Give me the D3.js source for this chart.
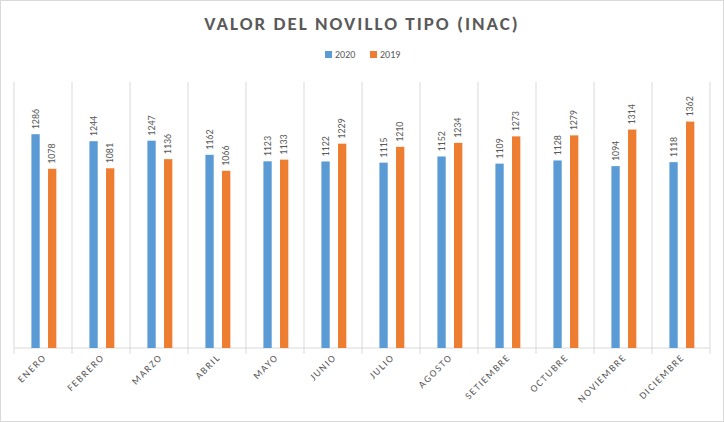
<!DOCTYPE html>
<html><head><meta charset="utf-8">
<script src="https://cdn.jsdelivr.net/npm/d3@7"></script>
<style>body{margin:0;background:#fff}svg{font-family:Calibri,"Liberation Sans",Arial,sans-serif}</style>
</head><body><svg id="c" width="724" height="422"></svg>
<script>
const months = ['ENERO','FEBRERO','MARZO','ABRIL','MAYO','JUNIO','JULIO','AGOSTO','SETIEMBRE','OCTUBRE','NOVIEMBRE','DICIEMBRE'];
const v2020 = [1286,1244,1247,1162,1123,1122,1115,1152,1109,1128,1094,1118];
const v2019 = [1078,1081,1136,1066,1133,1229,1210,1234,1273,1279,1314,1362];
const seriesNames = ['2020','2019'];
const colors = ['#5b9bd5','#ed7d31'];

const svg = d3.select('#c');
svg.append('rect').attr('x',0.5).attr('y',0.5).attr('width',723).attr('height',421).attr('fill','#fff').attr('stroke','#d9d9d9');

const margin = {left:14, right:14, top:82, bottom:74};
const width = 724 - margin.left - margin.right, height = 422 - margin.top - margin.bottom;
const g = svg.append('g').attr('transform',`translate(${margin.left},${margin.top})`);

const x = d3.scaleBand().domain(months).range([0,width]);
const xs = d3.scaleBand().domain(seriesNames).range([x.bandwidth()*0.3,x.bandwidth()*0.73]).paddingInner(0.5);
const y = d3.scaleLinear().domain([0,1600]).range([height,0]);

// vertical gridlines at category boundaries
g.selectAll('.grid').data(d3.range(months.length+1)).enter().append('line')
  .attr('x1',i=>i*x.step()).attr('x2',i=>i*x.step()).attr('y1',0).attr('y2',height+6)
  .attr('stroke','#d9d9d9');
g.append('line').attr('x1',0).attr('x2',width).attr('y1',height).attr('y2',height).attr('stroke','#d9d9d9');

const data = months.map((m,i)=>({m, vals:[v2020[i],v2019[i]]}));
const cat = g.selectAll('.cat').data(data).enter().append('g').attr('transform',d=>`translate(${x(d.m)},0)`);
cat.selectAll('rect').data(d=>d.vals.map((v,j)=>({v,s:seriesNames[j],j}))).enter().append('rect')
  .attr('x',d=>xs(d.s)).attr('width',xs.bandwidth()).attr('y',d=>y(d.v)).attr('height',d=>height-y(d.v))
  .attr('fill',d=>colors[d.j]);
cat.selectAll('text').data(d=>d.vals.map((v,j)=>({v,s:seriesNames[j]}))).enter().append('text')
  .attr('transform',d=>`translate(${xs(d.s)+xs.bandwidth()/2+3},${y(d.v)-5}) rotate(-90)`)
  .attr('font-size',10).attr('fill','#595959').text(d=>d.v);

// x labels
g.selectAll('.xl').data(months).enter().append('text')
  .attr('transform',m=>`translate(${x(m)+x.bandwidth()/2+4},${height+10}) rotate(-45)`)
  .attr('text-anchor','end').attr('font-size',10).attr('letter-spacing',1.5).attr('fill','#595959').text(m=>m);

// title
svg.append('text').attr('x',362).attr('y',30).attr('text-anchor','middle').attr('font-size',19).attr('font-weight','bold')
  .attr('letter-spacing',2).attr('fill','#595959').text('VALOR DEL NOVILLO TIPO (INAC)');

// legend
const lg = svg.append('g').attr('transform','translate(325,51)');
seriesNames.forEach((s,i)=>{
  lg.append('rect').attr('x',i*45).attr('y',0).attr('width',7).attr('height',7).attr('fill',colors[i]);
  lg.append('text').attr('x',i*45+10).attr('y',7).attr('font-size',10).attr('fill','#595959').text(s);
});
</script></body></html>
